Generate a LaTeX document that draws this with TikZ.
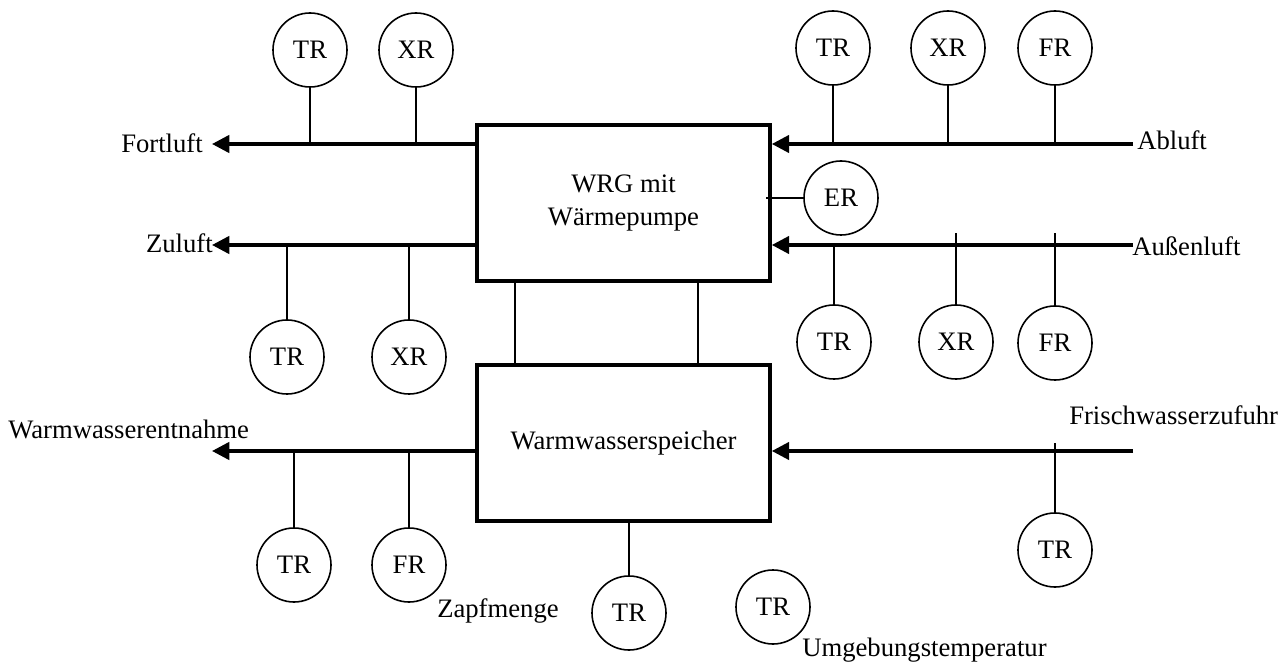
\documentclass[tikz,border=0pt]{standalone}
\usepackage{fontspec}
\setmainfont{Liberation Serif}
\usetikzlibrary{arrows.meta}

\begin{document}
\begin{tikzpicture}[x=0.75pt,y=0.75pt,yscale=-1,xscale=1,
        every node/.style={font=\fontsize{20}{25}\selectfont},
        sensor/.style={draw, circle, line width=1.2pt, minimum size=55.5pt, inner sep=0pt},
        unit/.style={draw, line width=3pt, minimum width=219.5pt, minimum height=117pt, align=center},
        flow/.style={line width=2.6pt, -{Triangle[length=13pt,width=13pt]}},
        pipe/.style={line width=2.6pt},
        tap/.style={line width=1.3pt}]
        \useasboundingbox (0,0) rectangle (1285,666);
        
        % Units
        \node [unit] (wrg) at (623.5,203) {WRG mit\\W\"armepumpe};
        \node [unit] (wws) at (623.5,443) {Warmwasserspeicher};
        
        % Flow ends
        \coordinate (fo) at (212,144);
        \coordinate (zu) at (212,245);
        \coordinate (ab) at (1133,144);
        \coordinate (au) at (1133,245);
        \coordinate (we) at (212,451);
        \coordinate (fw) at (1133,451);
        
        % Flows
        \draw [flow] (wrg.west |- fo) -- (fo);
        \draw [flow] (wrg.west |- zu) -- (zu);
        \draw [flow] (ab) -- (wrg.east |- ab);
        \draw [flow] (au) -- (wrg.east |- au);
        \draw [flow] (wws.west |- we) -- (we);
        \draw [flow] (fw) -- (wws.east |- fw);
        
        % Links between units
        \coordinate (l1) at (515,0);
        \coordinate (l2) at (698,0);
        \draw [tap] (l1 |- wrg.south) -- (l1 |- wws.north);
        \draw [tap] (l2 |- wrg.south) -- (l2 |- wws.north);
        
        % Sensors Fortluft
        \node [sensor] (fo1) at (310,50) {TR};
        \node [sensor] (fo2) at (416,50) {XR};
        \draw [tap] (fo1) -- (fo1 |- fo);
        \draw [tap] (fo2) -- (fo2 |- fo);
        
        % Sensors Zuluft
        \node [sensor] (zu1) at (287,357) {TR};
        \node [sensor] (zu2) at (409,357) {XR};
        \draw [tap] (zu1) -- (zu1 |- zu);
        \draw [tap] (zu2) -- (zu2 |- zu);
        
        % Sensors Abluft
        \node [sensor] (ab1) at (833,48) {TR};
        \node [sensor] (ab2) at (948,48) {XR};
        \node [sensor] (ab3) at (1055,48) {FR};
        \draw [tap] (ab1) -- (ab1 |- ab);
        \draw [tap] (ab2) -- (ab2 |- ab);
        \draw [tap] (ab3) -- (ab3 |- ab);
        
        % Sensor ER
        \node [sensor] (er) at (841,198) {ER};
        \coordinate (erp) at (766,198);
        \draw [tap] (er) -- (erp);
        
        % Sensors Aussenluft
        \node [sensor] (au1) at (834,342) {TR};
        \node [sensor] (au2) at (956,342) {XR};
        \node [sensor] (au3) at (1055,343) {FR};
        \draw [tap] (au1) -- (au1 |- au);
        \draw [tap] (au2) -- (au2 |- au) -- ++(0,-12);
        \draw [tap] (au3) -- (au3 |- au) -- ++(0,-12);
        
        % Sensors Warmwasser
        \node [sensor] (we1) at (294,565) {TR};
        \node [sensor] (we2) at (409,565) {FR};
        \draw [tap] (we1) -- (we1 |- we);
        \draw [tap] (we2) -- (we2 |- we);
        \node [sensor] (fw1) at (1055,550) {TR};
        \draw [tap] (fw1) -- (fw1 |- fw) -- ++(0,-8);
        \node [sensor] (sp1) at (629,613) {TR};
        \draw [tap] (sp1) -- (sp1 |- wws.south);
        \node [sensor] (um1) at (773,607) {TR};
        
        % Text Node
        \node [anchor=east, inner sep=0pt] at (203,143) {Fortluft};
        \node [anchor=east, inner sep=0pt] at (213,243) {Zuluft};
        \node [anchor=west, inner sep=0pt] at (1137,140) {Abluft};
        \node [anchor=west, inner sep=0pt] at (1132,246) {Au\ss enluft};
        \node [anchor=west, inner sep=0pt] at (8,429) {Warmwasserentnahme};
        \node [anchor=west, inner sep=0pt] at (1069,415) {Frischwasserzufuhr};
        \node [anchor=west, inner sep=0pt] at (437,611) {Zapfmenge};
        \node [anchor=west, inner sep=0pt] at (802,650) {Umgebungstemperatur};
        
\end{tikzpicture}
\end{document}
